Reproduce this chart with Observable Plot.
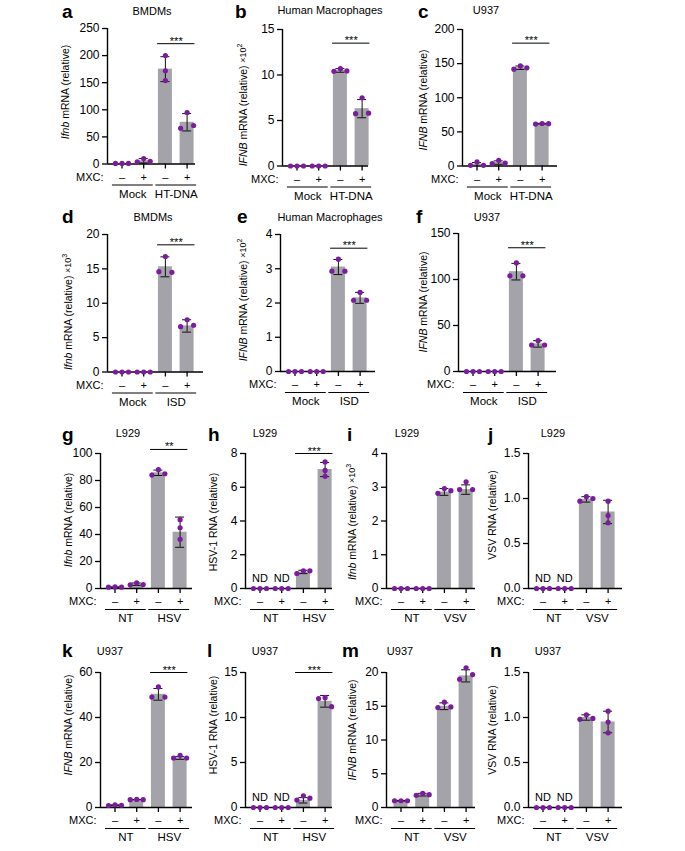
<!DOCTYPE html>
<html><head><meta charset="utf-8">
<script src="https://cdn.jsdelivr.net/npm/d3@7"></script>
<script src="https://cdn.jsdelivr.net/npm/@observablehq/plot@0.6"></script>
<style>
body{margin:0;background:#fff;}
#fig{position:relative;width:685px;height:851px;overflow:hidden;background:#fff;}
</style></head><body><div id="fig"></div>
<script>
// ---------- DATA ----------
const panelLetters = ["a","b","c","d","e","f","g","h","i","j","k","l","m","n"];
const panelTitles = ["BMDMs","Human Macrophages","U937","BMDMs","Human Macrophages","U937","L929","L929","L929","L929","U937","U937","U937","U937"];
const yGene = ["Ifnb","IFNB","IFNB","Ifnb","IFNB","IFNB","Ifnb","","Ifnb","","IFNB","","IFNB",""];
const yRest = [" mRNA (relative)"," mRNA (relative)"," mRNA (relative)"," mRNA (relative)"," mRNA (relative)"," mRNA (relative)"," mRNA (relative)","HSV-1 RNA (relative)"," mRNA (relative)","VSV RNA (relative)"," mRNA (relative)","HSV-1 RNA (relative)"," mRNA (relative)","VSV RNA (relative)"];
const yExp = ["","2","","3","2","","","","3","","","","",""];
const mxcSigns = ["–","+","–","+"];
const groupNames = [["Mock","HT-DNA"],["Mock","HT-DNA"],["Mock","HT-DNA"],["Mock","ISD"],["Mock","ISD"],["Mock","ISD"],["NT","HSV"],["NT","HSV"],["NT","VSV"],["NT","VSV"],["NT","HSV"],["NT","HSV"],["NT","VSV"],["NT","VSV"]];
const yTicks = [[0,50,100,150,200,250],[0,5,10,15],[0,50,100,150,200],[0,5,10,15,20],[0,1,2,3,4],[0,50,100,150],[0,20,40,60,80,100],[0,2,4,6,8],[0,1,2,3,4],[0,0.5,1,1.5],[0,20,40,60],[0,5,10,15],[0,5,10,15,20],[0,0.5,1,1.5]];
const yDecimals = [0,0,0,0,0,0,0,0,0,1,0,0,0,1];
const means = [
  [1,6,175,77],[0.02,0.02,10.5,6.3],[2.5,5,144,62],[0,0,15.3,6.7],[0,0,3.05,2.15],[0,0,108.5,30],
  [1,3.2,85.7,41.7],[0,0,0.98,7.05],[0,0,2.86,2.93],[0,0,0.99,0.85],
  [1,3.5,50.3,22],[0,0,0.8,11.8],[1,1.9,15,19.5],[0,0,1.0,0.95]];
const sds = [
  [0,4,23,16],[0,0,0.2,1.0],[2.5,2.5,2.5,0.5],[0,0,1.45,0.9],[0,0,0.22,0.16],[0,0,9,3.5],
  [0.1,0.9,2,11.2],[0,0,0.1,0.42],[0,0,0.1,0.14],[0,0,0.03,0.13],
  [0.15,0.05,2.6,0.6],[0,0,0.3,0.65],[0.05,0.2,0.5,0.9],[0,0,0.03,0.12]];
const points = [
  [[1,1,1],[4,10,5],[200,172,154],[95,66,71]],
  [[0,0,0],[0,0,0],[10.4,10.7,10.45],[5.75,7.5,5.8]],
  [[1,6,1],[3.4,8.3,4.4],[141.8,146.7,143.8],[61.5,62,62.3]],
  [[0,0,0],[0,0,0],[14.6,16.8,14.5],[6.6,7.6,6.8]],
  [[0,0,0],[0,0,0],[2.93,3.28,2.93],[2.08,2.31,2.08]],
  [[0,0,0],[0,0,0],[104,118,104],[28.8,33.5,28.8]],
  [[1,1,1.2],[2.7,4.2,2.9],[84,88,85],[51,45,36.5]],
  [[0,0,0],[0,0,0],[0.89,1.05,1.05],[7.5,7.0,6.65]],
  [[0,0,0],[0,0,0],[2.82,2.96,2.9],[2.93,3.16,2.93]],
  [[0,0,0],[0,0,0],[0.97,1.02,1.0],[0.97,0.81,0.73]],
  [[0.9,1.2,1.0],[3.5,3.6,3.5],[49.1,53.6,49.1],[22,23.2,22]],
  [[0,0,0],[0,0,0],[0.82,1.3,1.04],[12.1,12.2,11.2]],
  [[1,1,1],[1.8,2.1,1.9],[14.8,15.6,14.9],[19.0,20.7,19.7]],
  [[0,0,0],[0,0,0],[0.98,1.03,0.99],[0.95,1.07,0.83]]];
const sigLevel = [222,13.5,180,18.5,3.6,134.5,103,8,null,null,60,15,null,null];
const sigLabel = ["***","***","***","***","***","***","**","***","","","***","***","",""];
const notDetected = [false,false,false,false,false,false,false,true,false,true,false,true,false,true];

// ---------- LAYOUT (pixels): left, right, top, zero, letterX, letterY, titleX, titleY, yTitleX, yTitleY ----------
const layout = [
  [107,195,27.5,163, 62,18, 152,15, 65,92],
  [282,368,29,165.5, 235,18, 330,14, 243,105],
  [462,557,29,165.5, 418,18, 486,14, 423,100],
  [107,203,233.5,371, 62,223, 153,221, 68,312],
  [280,375,234,371, 237,223, 330,221, 243,300],
  [458,556,233,371, 416,223, 487,221, 423,302],
  [100,192,453,588, 62,441, 128,437, 68,520],
  [245,332,453,588, 208,441, 265,437, 213,522],
  [386,475,453,588, 347,441, 407,437, 352,522],
  [528,622,453,588, 488,441, 553,437, 492,515],
  [100,192,672,807, 62,657, 110,655, 68,725],
  [245,332,672,807, 207,657, 265,655, 213,725],
  [386,475,672,807, 342,657, 400,655, 352,730],
  [528,622,672,807, 490,657, 548,655, 492,730]];

const FONT = "'Liberation Sans', Arial, Helvetica, sans-serif";
const BAR = "#a4a3a9", DOT = "#7b1c9e";
const fig = document.getElementById("fig");

function spread(vals, pxPerUnit) {
  const py = vals.map(v => v * pxPerUnit);
  let collide = false;
  for (let a = 0; a < py.length; a++) for (let b = a + 1; b < py.length; b++) if (Math.abs(py[a] - py[b]) < 5) collide = true;
  if (!collide) return vals.map(() => 0);
  const imax = vals.indexOf(Math.max(...vals));
  const others = vals.map((_, k) => k).filter(k => k !== imax);
  const off = []; off[imax] = 0; off[others[0]] = -1; off[others[1]] = 1;
  return off;
}

panelLetters.forEach((L, p) => {
  const [left, right, top, zero] = layout[p];
  const step = 21.7;
  const xmin = -14.5 / step, xmax = (right - left - 14.5) / step;
  const ml = 50, mr = 10, mt = 16, mb = 46;
  const W = right - left + ml + mr, H = zero - top + mt + mb;
  const ymax = yTicks[p][yTicks[p].length - 1];
  const pxPerUnit = (zero - top) / ymax;
  const bw = 7 / step, cw = 4.5 / step, dotStep = 6.5 / step;
  const bars = [0,1,2,3].map(i => ({i, m: means[p][i], sd: sds[p][i]}));
  const errs = bars.filter(d => d.sd > 0);
  const dots = [];
  points[p].forEach((vals, i) => {
    const off = spread(vals, pxPerUnit);
    vals.forEach((v, k) => dots.push({x: i + off[k] * dotStep, y: v}));
  });
  const groups = [{a: 0, b: 1, name: groupNames[p][0]}, {a: 2, b: 3, name: groupNames[p][1]}];
  const fmt = yDecimals[p] ? d3.format(".1f") : d3.format("d");
  const marks = [
    Plot.rectY(bars, {x1: d => d.i - bw, x2: d => d.i + bw, y1: 0, y2: "m", fill: BAR}),
    Plot.ruleX(errs, {x: "i", y1: d => Math.max(0, d.m - d.sd), y2: d => d.m + d.sd, stroke: "#111", strokeWidth: 1}),
    Plot.ruleY(errs, {y: d => d.m + d.sd, x1: d => d.i - cw, x2: d => d.i + cw, stroke: "#111", strokeWidth: 1}),
    Plot.ruleY(errs.filter(d => d.m - d.sd > 0), {y: d => d.m - d.sd, x1: d => d.i - cw, x2: d => d.i + cw, stroke: "#111", strokeWidth: 1}),
    Plot.ruleY([0], {stroke: "#000", strokeWidth: 1.4}),
    Plot.ruleX([xmin], {y1: 0, y2: ymax, stroke: "#000", strokeWidth: 1.4}),
    Plot.axisY({ticks: yTicks[p], tickFormat: fmt, tickSize: 5, tickPadding: 3, fontSize: 12, label: null, strokeWidth: 1.3}),
    Plot.axisX({ticks: [0,1,2,3], tickFormat: i => mxcSigns[i], tickSize: 5, tickPadding: 4, fontSize: 11, label: null, strokeWidth: 1.3}),
    Plot.text([{t: "MXC:"}], {x: () => xmin, y: () => 0, text: "t", textAnchor: "end", lineAnchor: "top", dx: -4, dy: 9, fontSize: 11}),
    Plot.ruleY(groups, {y: () => 0, x1: g => g.a - 0.44, x2: g => g.b + 0.44, dy: 21, stroke: "#000", strokeWidth: 1}),
    Plot.text(groups, {x: g => (g.a + g.b) / 2, y: () => 0, text: "name", dy: 30, fontSize: 11.5}),
    Plot.dot(dots, {x: "x", y: "y", r: 2.6, fill: DOT, stroke: "none"})
  ];
  if (sigLevel[p] != null) {
    const s = [{y: sigLevel[p], t: sigLabel[p]}];
    marks.push(Plot.ruleY(s, {y: "y", x1: () => 2 - 0.36, x2: () => 3 + 0.36, stroke: "#000", strokeWidth: 1}));
    marks.push(Plot.text(s, {x: () => 2.5, y: "y", text: "t", lineAnchor: "bottom", dy: 1, fontSize: 11}));
  }
  if (notDetected[p]) {
    marks.push(Plot.text([0, 1], {x: d => d, y: () => 0, text: () => "ND", dy: -10, fontSize: 11}));
  }
  const chart = Plot.plot({
    width: W, height: H, marginLeft: ml, marginRight: mr, marginTop: mt, marginBottom: mb,
    x: {type: "linear", domain: [xmin, xmax]},
    y: {type: "linear", domain: [0, ymax]},
    style: {background: "transparent", overflow: "visible", fontFamily: FONT, fontSize: "11px", color: "#000"},
    marks
  });
  chart.style.position = "absolute";
  chart.style.left = (left - ml) + "px";
  chart.style.top = (top - mt) + "px";
  fig.appendChild(chart);
});

// ---------- overlay text: panel letters, titles, y-axis titles ----------
const ov = d3.select(fig).append("svg")
  .attr("width", 685).attr("height", 851)
  .style("position", "absolute").style("left", 0).style("top", 0)
  .style("font-family", FONT).style("pointer-events", "none");
panelLetters.forEach((L, p) => {
  const [, , , , lx, ly, tx, ty, yx, yy] = layout[p];
  ov.append("text").attr("x", lx).attr("y", ly).attr("font-weight", "bold").attr("font-size", 19).text(L);
  ov.append("text").attr("x", tx).attr("y", ty).attr("text-anchor", "middle").attr("font-size", 11).text(panelTitles[p]);
  const t = ov.append("text").attr("transform", `translate(${yx},${yy}) rotate(-90)`)
    .attr("text-anchor", "middle").attr("dominant-baseline", "central").attr("font-size", 10.5);
  if (yGene[p]) t.append("tspan").attr("font-style", "italic").text(yGene[p]);
  t.append("tspan").text(yRest[p]);
  if (yExp[p]) {
    t.append("tspan").attr("font-size", 9).text(" ×10");
    t.append("tspan").attr("font-size", 7).attr("dy", -4).text(yExp[p]);
  }
});
</script></body></html>
